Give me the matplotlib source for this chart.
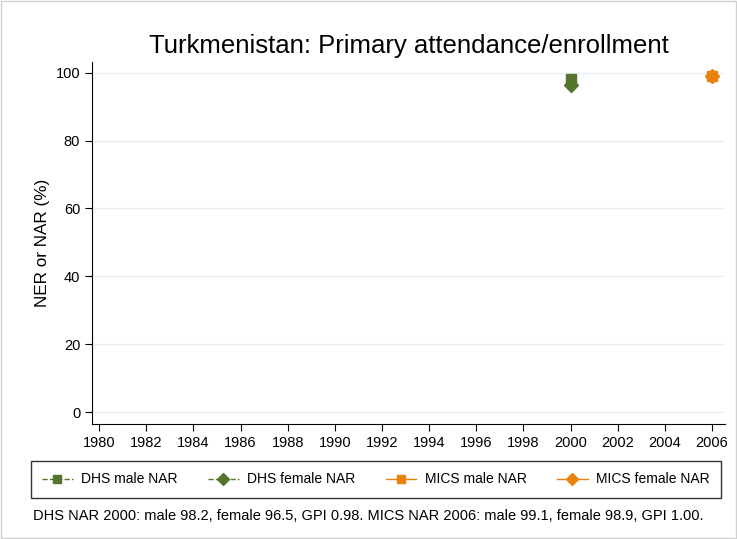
import numpy as np
import matplotlib.pyplot as plt
from matplotlib.lines import Line2D

plt.rcParams['font.family'] = ['Liberation Sans', 'DejaVu Sans']

years_dhs = [2000]
dhs_male = [98.2]
dhs_female = [96.5]
years_mics = [2006]
mics_male = [99.1]
mics_female = [98.9]

xticks = list(range(1980, 2007, 2))
yticks = [0, 20, 40, 60, 80, 100]

green = '#55752f'
orange = '#e8820c'

fig = plt.figure(figsize=(7.37, 5.39), dpi=100)
ax = fig.add_axes([0.1248, 0.2134, 0.859, 0.672])

ax.plot(years_dhs, dhs_male, ls='--', color=green, marker='s', ms=7, lw=1)
ax.plot(years_dhs, dhs_female, ls='--', color=green, marker='D', ms=7, lw=1)
ax.plot(years_mics, mics_male, ls='-', color=orange, marker='s', ms=7, lw=1)
ax.plot(years_mics, mics_female, ls='-', color=orange, marker='D', ms=7, lw=1)

ax.set_xlim(1979.7, 2006.55)
ax.set_ylim(-3.5, 103.2)
ax.set_xticks(xticks)
ax.set_yticks(yticks)
ax.tick_params(labelsize=10.5, length=5, color='black')
ax.grid(axis='y', color='#e6eff1', lw=1)
ax.set_axisbelow(True)
for s in ['top', 'right']:
    ax.spines[s].set_visible(False)
ax.set_ylabel('NER or NAR (%)', fontsize=12.3, labelpad=4)
ax.set_title('Turkmenistan: Primary attendance/enrollment', fontsize=18.5, pad=6)

handles = [
    Line2D([], [], ls='--', color=green, marker='s', ms=6, lw=1),
    Line2D([], [], ls='--', color=green, marker='D', ms=6, lw=1),
    Line2D([], [], ls='-', color=orange, marker='s', ms=6, lw=1),
    Line2D([], [], ls='-', color=orange, marker='D', ms=6, lw=1),
]
labels = ['DHS male NAR', 'DHS female NAR', 'MICS male NAR', 'MICS female NAR']
leg = fig.legend(handles, labels, loc='center', bbox_to_anchor=(0.51, 0.1104),
                 ncol=4, fontsize=10, frameon=True, fancybox=False,
                 edgecolor='black', handlelength=2.2, columnspacing=2.2,
                 borderpad=0.8, handletextpad=0.6)
leg.get_frame().set_linewidth(1)

fig.text(0.045, 0.042, 'DHS NAR 2000: male 98.2, female 96.5, GPI 0.98. MICS NAR 2006: male 99.1, female 98.9, GPI 1.00.',
         fontsize=10.5, ha='left', va='center')

fig.patches.append(plt.Rectangle((0.001, 0.001), 0.998, 0.998, transform=fig.transFigure,
                                 fill=False, edgecolor='#d0d0d0', lw=1))

fig.savefig('out.png', dpi=100)
